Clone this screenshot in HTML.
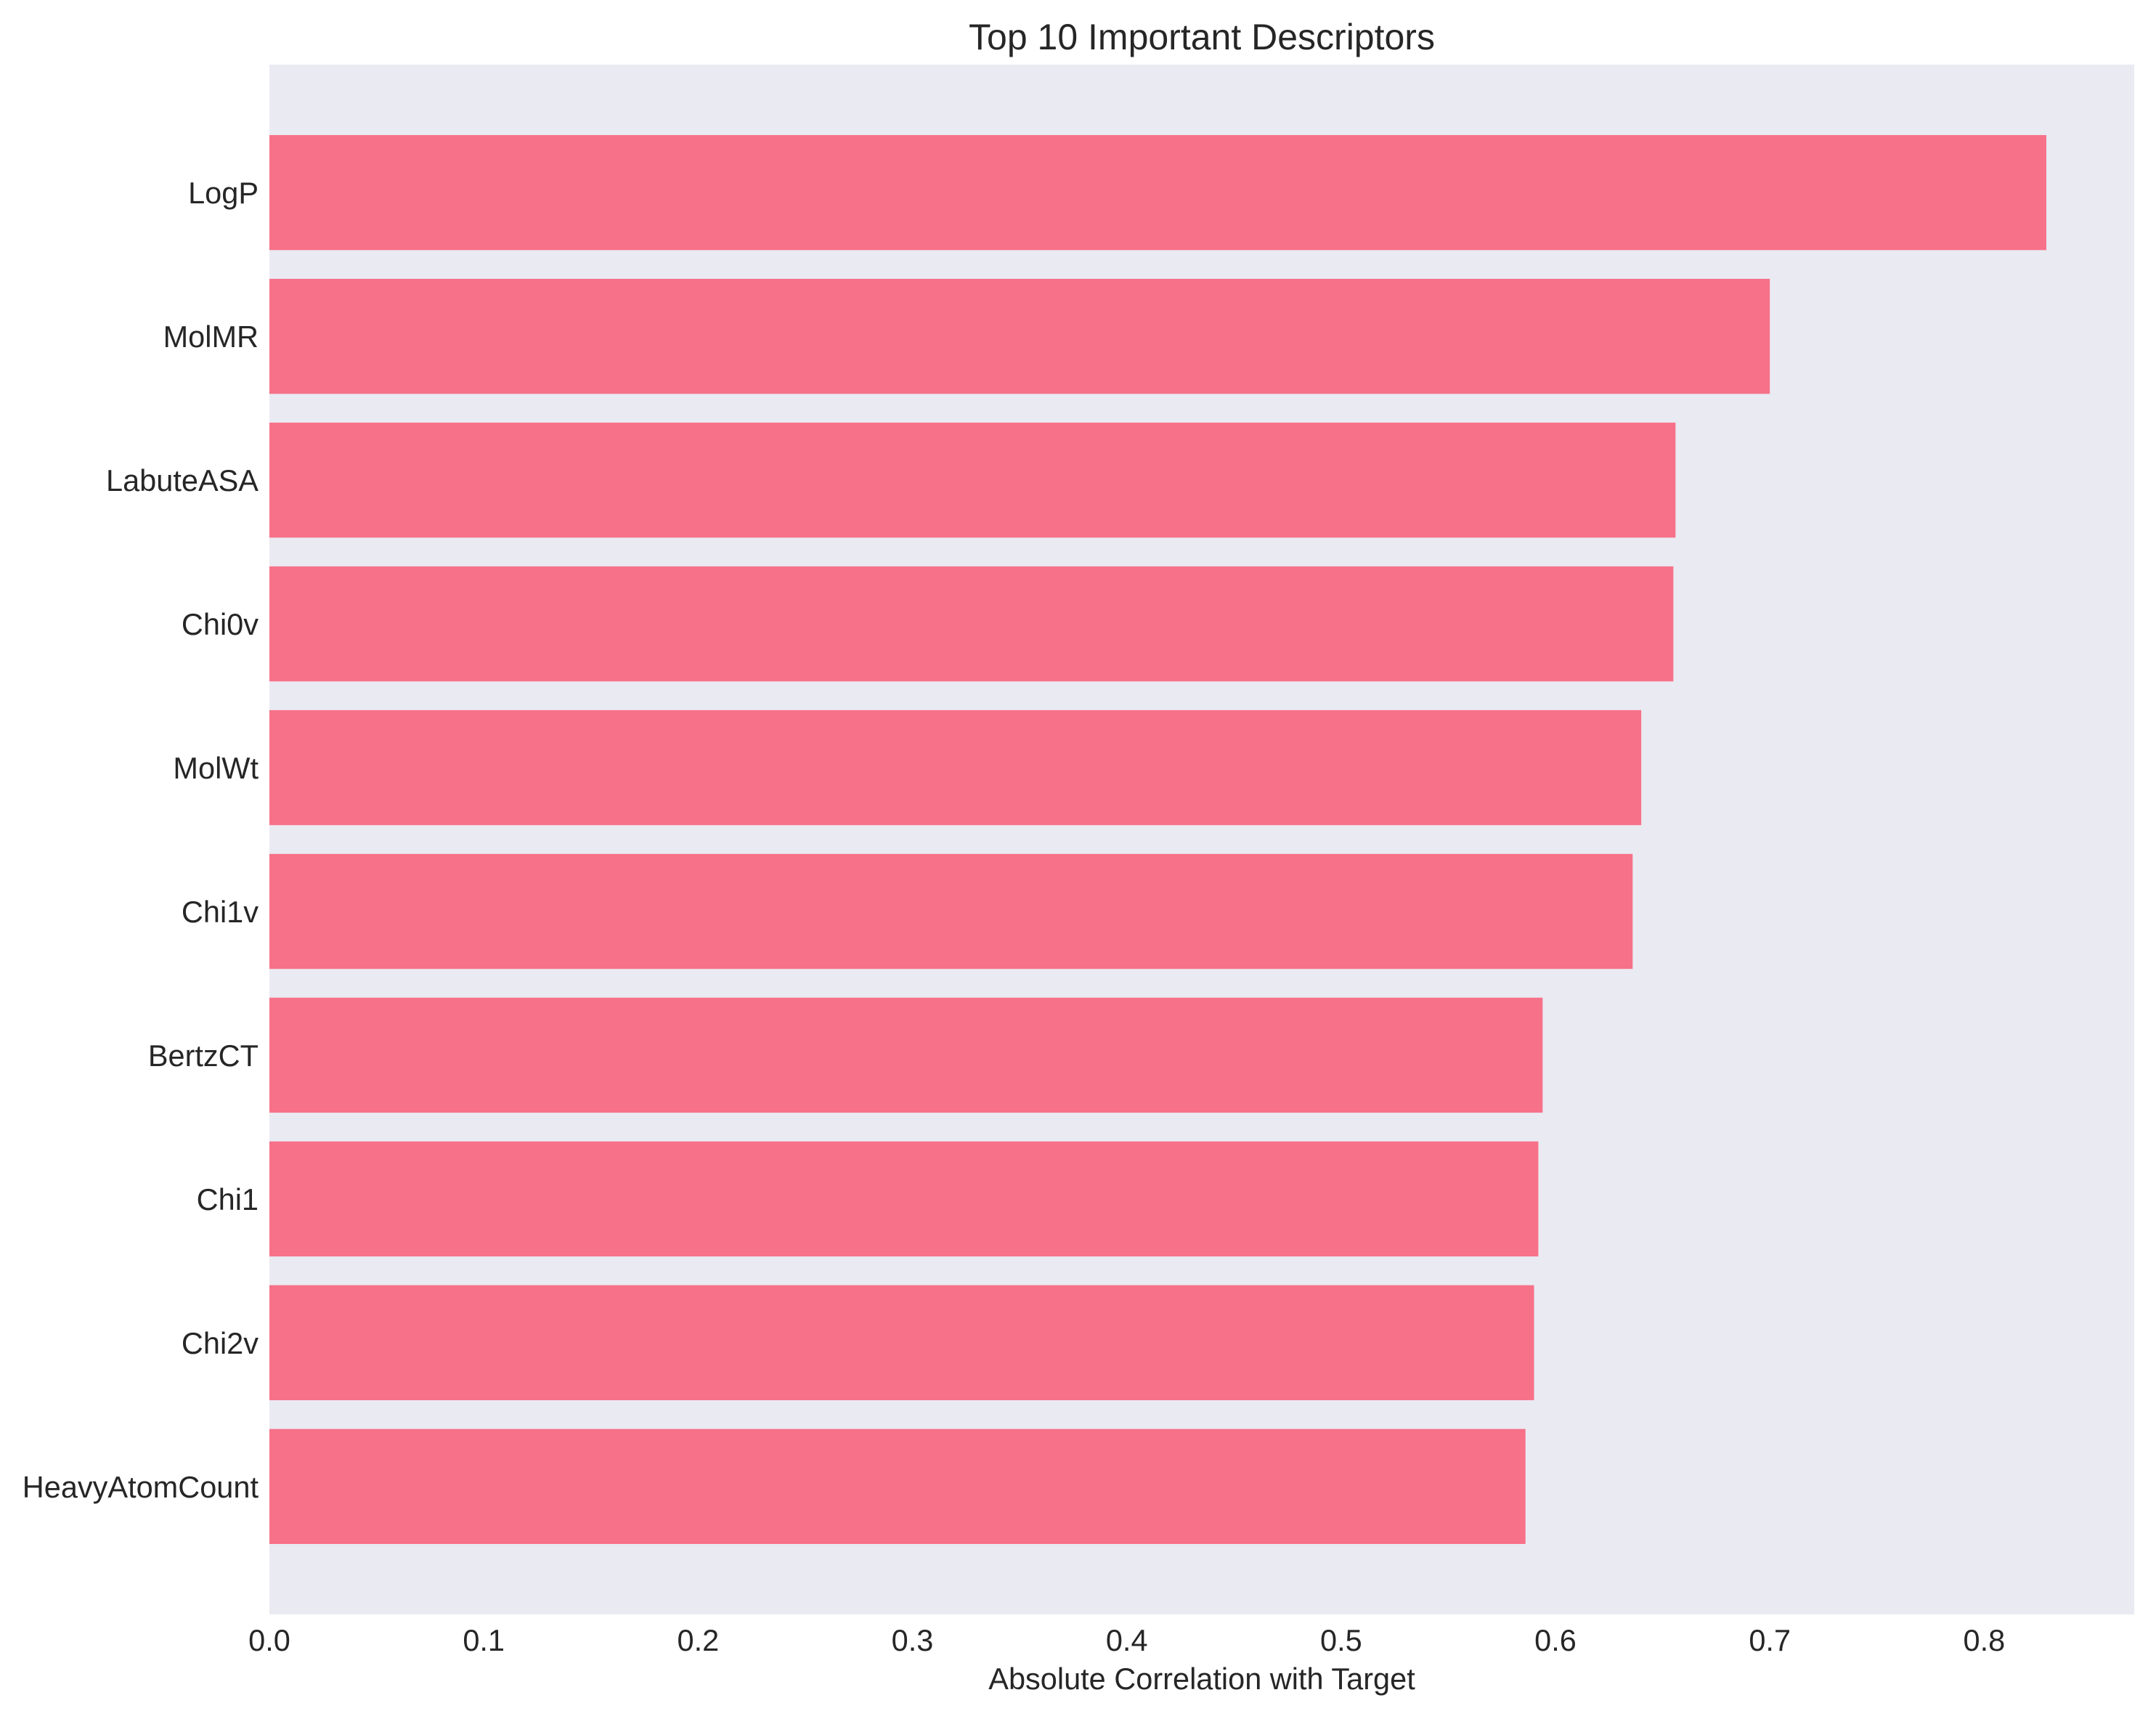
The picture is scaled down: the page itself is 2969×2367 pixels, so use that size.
<!DOCTYPE html>
<html><head><meta charset="utf-8"><style>
html,body{margin:0;padding:0;background:#fff;}
svg text{font-family:"Liberation Sans",Arial,sans-serif;fill:#262626;}
</style></head><body>
<svg id="chart" width="2969" height="2362" viewBox="0 0 2969 2362" xmlns="http://www.w3.org/2000/svg">
<rect width="2969" height="2362" fill="#ffffff"/>
<rect id="plotbg" x="371" y="89" width="2568" height="2134" fill="#eaeaf2"/>
<g id="bars"></g>
<g id="ylabels"></g>
<g id="xticks"></g>
<text x="1655" y="68" font-size="50" text-anchor="middle">Top 10 Important Descriptors</text>
<text x="1655" y="2326" font-size="41.5" text-anchor="middle">Absolute Correlation with Target</text>
</svg>
<script>
const categories = ["LogP","MolMR","LabuteASA","Chi0v","MolWt","Chi1v","BertzCT","Chi1","Chi2v","HeavyAtomCount"];
const values = [0.829,0.700,0.656,0.655,0.640,0.636,0.594,0.592,0.590,0.586];
const xTicks = [0,0.1,0.2,0.3,0.4,0.5,0.6,0.7,0.8];
const xTickLabels = ["0.0","0.1","0.2","0.3","0.4","0.5","0.6","0.7","0.8"];

const NS="http://www.w3.org/2000/svg";
const L=371,R=2939,T=89,B=2223;
const xMin=0,xMax=0.87;
const n=categories.length;
const yLo=-0.4-0.05*(n-1+0.8), yHi=n-1+0.4+0.05*(n-1+0.8);
function xs(v){return L+(v-xMin)/(xMax-xMin)*(R-L);}
function ys(i){return T+(i-yLo)/(yHi-yLo)*(B-T);}
const unit=(B-T)/(yHi-yLo);
const gb=document.getElementById('bars'),gy=document.getElementById('ylabels'),gx=document.getElementById('xticks');
values.forEach((v,i)=>{
  const r=document.createElementNS(NS,'rect');
  r.setAttribute('x',xs(0));r.setAttribute('y',ys(i)-0.4*unit);
  r.setAttribute('width',xs(v)-xs(0));r.setAttribute('height',0.8*unit);
  r.setAttribute('fill','#f77189');
  
  
  gb.appendChild(r);
  const t=document.createElementNS(NS,'text');
  t.setAttribute('x',356);t.setAttribute('y',ys(i)+15);
  t.setAttribute('font-size','41.5');t.setAttribute('text-anchor','end');
  t.textContent=categories[i];
  
  
  gy.appendChild(t);
});
xTicks.forEach((v,i)=>{
  const t=document.createElementNS(NS,'text');
  t.setAttribute('x',xs(v));t.setAttribute('y',2273);
  t.setAttribute('font-size','41.5');t.setAttribute('text-anchor','middle');
  t.textContent=xTickLabels[i];
  
  
  gx.appendChild(t);
});
</script>
</body></html>
